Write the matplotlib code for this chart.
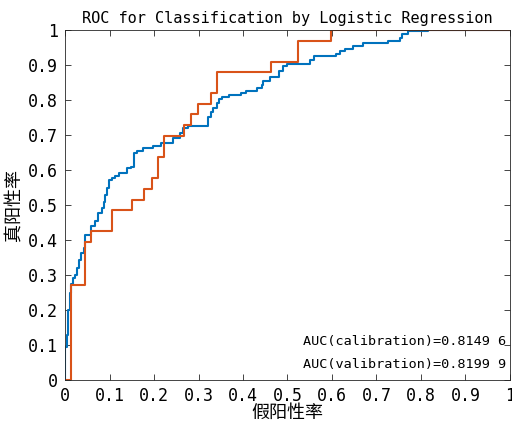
import numpy as np
import matplotlib
matplotlib.use("Agg")
import matplotlib.pyplot as plt

# ROC points (x where the step rises, y after the rise)
fpr_cal = [0, 0, 0.004, 0.0075, 0.011, 0.014, 0.018, 0.022, 0.027, 0.031, 0.035,
           0.042, 0.045, 0.058, 0.067, 0.074, 0.083, 0.088, 0.09, 0.094, 0.099,
           0.106, 0.112, 0.121, 0.139, 0.148, 0.155, 0.162, 0.175, 0.198, 0.216,
           0.243, 0.258, 0.265, 0.276, 0.321, 0.328, 0.333, 0.342, 0.346, 0.353,
           0.369, 0.396, 0.407, 0.431, 0.443, 0.445, 0.461, 0.481, 0.49, 0.499,
           0.551, 0.56, 0.609, 0.618, 0.629, 0.647, 0.67, 0.726, 0.753, 0.757,
           0.771, 0.816, 1.0]
tpr_cal = [0, 0.094, 0.129, 0.2, 0.249, 0.274, 0.291, 0.30, 0.32, 0.343, 0.363,
           0.377, 0.414, 0.44, 0.454, 0.477, 0.491, 0.509, 0.529, 0.549, 0.571,
           0.577, 0.583, 0.591, 0.606, 0.609, 0.649, 0.654, 0.663, 0.669, 0.677,
           0.691, 0.706, 0.72, 0.726, 0.751, 0.766, 0.777, 0.791, 0.803, 0.809,
           0.814, 0.82, 0.826, 0.834, 0.843, 0.854, 0.866, 0.883, 0.897, 0.903,
           0.914, 0.926, 0.931, 0.94, 0.946, 0.954, 0.963, 0.969, 0.977, 0.989,
           0.997, 1.0, 1.0]

fpr_val = [0, 0.0135, 0.045, 0.058, 0.105, 0.15, 0.178, 0.195, 0.21, 0.223,
           0.268, 0.283, 0.298, 0.328, 0.342, 0.463, 0.524, 0.598, 1.0]
tpr_val = [0, 0.271, 0.394, 0.426, 0.486, 0.515, 0.545, 0.577, 0.637, 0.697,
           0.729, 0.76, 0.79, 0.82, 0.88, 0.909, 0.97, 1.0, 1.0]

auc_cal = "0.8149 6"
auc_val = "0.8199 9"

plt.rcParams["font.family"] = ["DejaVu Sans Mono", "Noto Sans CJK SC"]

fig = plt.figure(figsize=(5.12, 4.23), dpi=100)
ax = fig.add_axes([0.127, 0.1017, 0.869, 0.8273])

ax.plot(fpr_cal, tpr_cal, drawstyle="steps-post", color="#0072BD", lw=1.5)
ax.plot(fpr_val, tpr_val, drawstyle="steps-post", color="#D95319", lw=1.5)

ax.set_xlim(0, 1)
ax.set_ylim(0, 1)
ticks = np.round(np.arange(0, 1.01, 0.1), 1)
labels = ["0"] + [f"{t:.1f}" for t in ticks[1:-1]] + ["1"]
ax.set_xticks(ticks)
ax.set_xticklabels(labels)
ax.set_yticks(ticks)
ax.set_yticklabels(labels)
ax.tick_params(direction="in", length=4, width=0.6, color="#262626",
               top=True, right=True, labelsize=12, pad=5)
for s in ax.spines.values():
    s.set_color("#262626")
    s.set_linewidth(0.6)

ax.set_title("ROC for Classification by Logistic Regression", fontsize=11, pad=5)
ax.set_xlabel("假阳性率", family=["Noto Sans CJK SC"], fontsize=13,
              fontweight="medium", labelpad=-1)
ax.set_ylabel("真阳性率", family=["Noto Sans CJK SC"], fontsize=13,
              fontweight="medium", labelpad=3)

ax.text(0.535, 0.111, f"AUC(calibration)={auc_cal}", fontsize=9.7, va="center")
ax.text(0.535, 0.043, f"AUC(valibration)={auc_val}", fontsize=9.7, va="center")

fig.savefig("out.png", dpi=100)
